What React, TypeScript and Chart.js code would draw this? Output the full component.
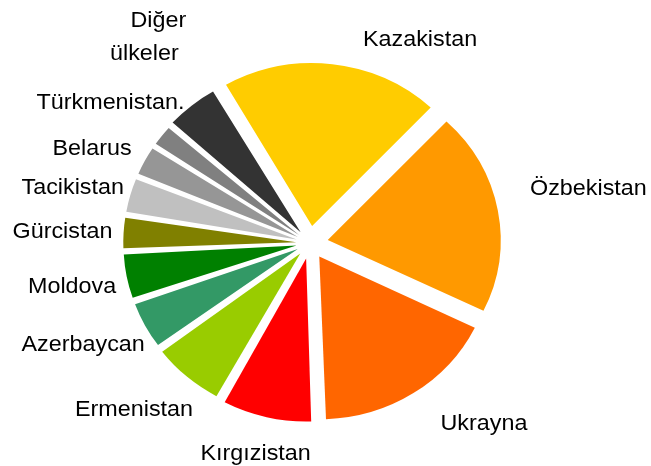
import React, { useEffect, useRef } from "react";
import { Chart, registerables } from "chart.js";

Chart.register(...registerables);

// ---- data ----
const categories: string[] = [
  "Kazakistan",
  "Özbekistan",
  "Ukrayna",
  "Kırgızistan",
  "Ermenistan",
  "Azerbaycan",
  "Moldova",
  "Gürcistan",
  "Tacikistan",
  "Belarus",
  "Türkmenistan.",
  "Diğer ülkeler",
];
const shares: number[] = [20.3, 20.1, 17.2, 8.5, 6.9, 4.8, 4.6, 3.3, 3.6, 3.1, 2.3, 5.1];

// ---- styles / layout ----
const colors: string[] = [
  "#FFCC00",
  "#FF9900",
  "#FF6600",
  "#FF0000",
  "#99CC00",
  "#339966",
  "#008000",
  "#808000",
  "#C0C0C0",
  "#969696",
  "#808080",
  "#333333",
];
// explosion distance of each slice in pixels (Chart.js moves arcs by offset / 4)
const explodePx: number[] = [17, 17, 16, 16, 14, 13, 13, 13, 13, 13, 13, 14];
const STRETCH_X = 1.061; // horizontal stretch of the whole picture
const W = 651;
const H = 466;
const CENTER_X = 310 / STRETCH_X;
const CENTER_Y = 243;
const RADIUS = 163;
const ROTATION = -29.9;
const FONT = '22px "Liberation Sans", Arial, sans-serif';
// left x and baseline y of each label line (page pixels)
const labelLayout: [number, number][][] = [
  [[363, 45.7]],
  [[530, 195]],
  [[440.5, 430]],
  [[200.5, 460]],
  [[75, 415.7]],
  [[21.5, 350.7]],
  [[28, 293.3]],
  [[12.5, 238.3]],
  [[21.5, 194]],
  [[52.5, 155]],
  [[36.5, 109.3]],
  [[130.5, 26.7], [110, 60]],
];

const stretchAndLabels = {
  id: "stretchAndLabels",
  beforeDatasetsDraw(chart: any) {
    // Chart.js enlarges exploded arcs by offset/4*(1 - sin(circumference)); undo that so all slices keep one radius
    const meta = chart.getDatasetMeta(0);
    meta.data.forEach((arc: any, i: number) => {
      const fix = 1 - Math.sin(Math.min(Math.PI, arc.circumference || 0));
      arc.outerRadius = RADIUS - explodePx[i] * fix;
    });
    const ctx = chart.ctx;
    ctx.save();
    ctx.scale(STRETCH_X, 1);
  },
  afterDatasetsDraw(chart: any) {
    const ctx = chart.ctx;
    ctx.fillStyle = "#000000";
    ctx.font = FONT;
    ctx.textAlign = "left";
    ctx.textBaseline = "alphabetic";
    categories.forEach((name, i) => {
      const anchors = labelLayout[i];
      let lines: string[] = [name];
      if (anchors.length > 1) {
        const idx = name.indexOf(" ");
        lines = [name.slice(0, idx), name.slice(idx + 1)];
      }
      lines.forEach((line, j) => {
        const [x, y] = anchors[j];
        ctx.fillText(line, x / STRETCH_X, y);
      });
    });
    ctx.restore();
  },
};

export default function App() {
  const ref = useRef<HTMLCanvasElement | null>(null);
  useEffect(() => {
    if (!ref.current) return;
    const padRight = W - 2 * CENTER_X;
    const chart = new Chart(ref.current, {
      type: "pie",
      data: {
        labels: categories,
        datasets: [
          {
            data: shares,
            backgroundColor: colors,
            borderWidth: 0,
            offset: explodePx.map((d) => d * 4),
            radius: RADIUS,
            clip: false,
          } as any,
        ],
      },
      options: {
        animation: false,
        responsive: false,
        devicePixelRatio: 1,
        events: [],
        rotation: ROTATION,
        layout: {
          padding: { left: 0, right: padRight, top: 2 * CENTER_Y - H, bottom: 0 },
        },
        plugins: {
          legend: { display: false },
          title: { display: false },
          tooltip: { enabled: false },
        },
      },
      plugins: [stretchAndLabels],
    });
    return () => chart.destroy();
  }, []);
  return (
    <div style={{ position: "fixed", left: 0, top: 0, width: W, height: H, background: "#fff" }}>
      <canvas ref={ref} width={W} height={H} />
    </div>
  );
}
